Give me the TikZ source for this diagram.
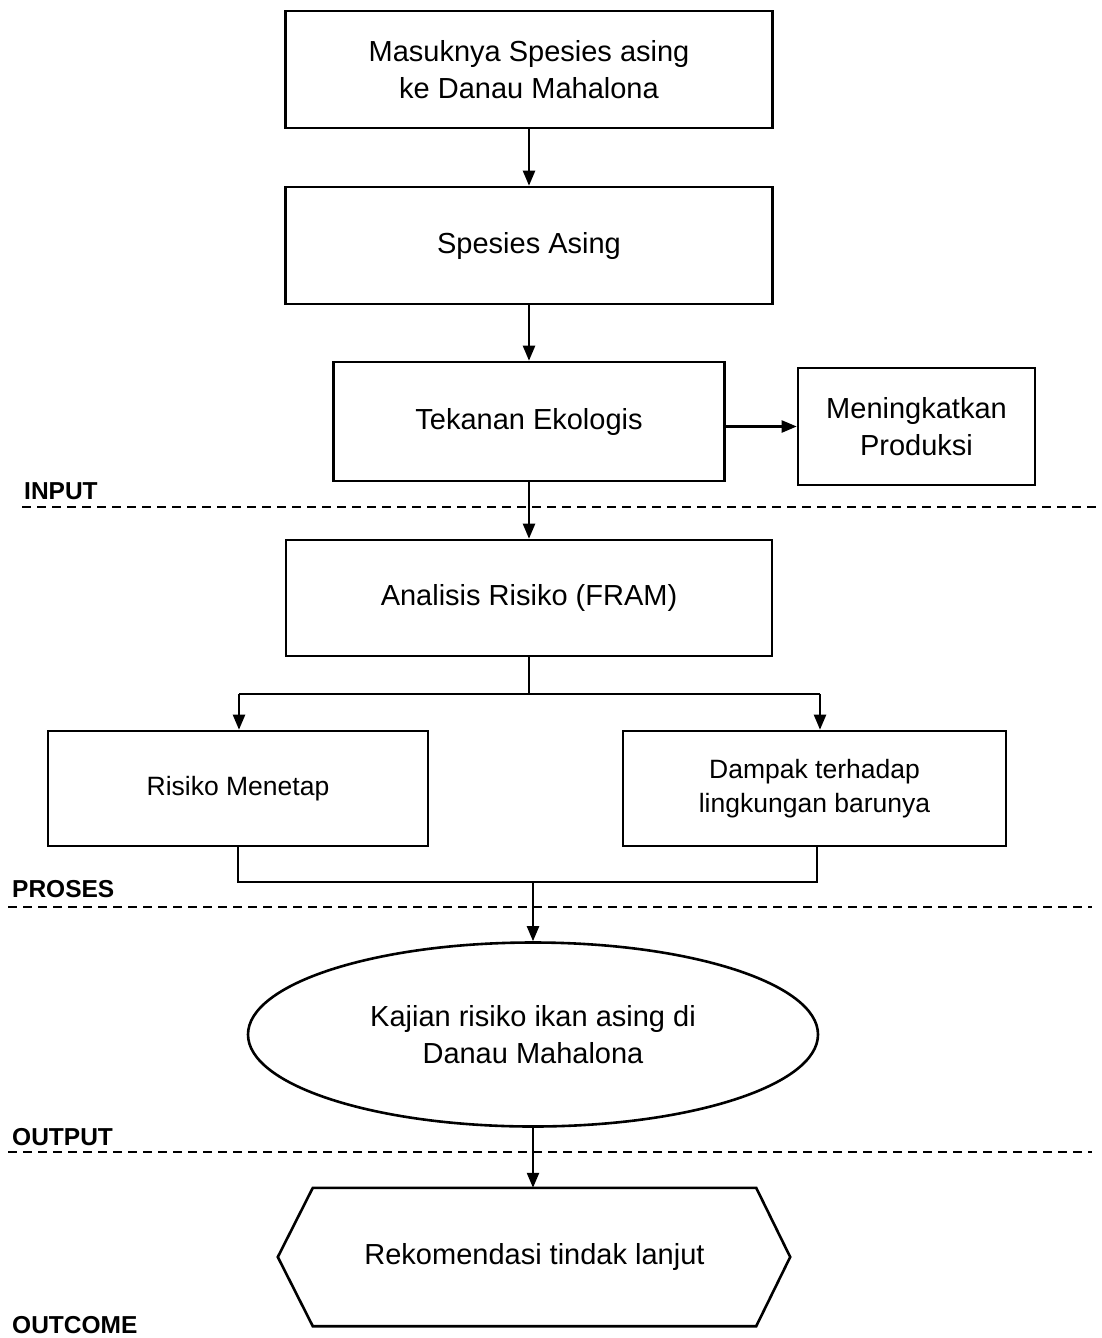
\documentclass[tikz,border=0pt]{standalone}
\usepackage{fontspec}
\setmainfont{Liberation Sans}
\usetikzlibrary{arrows.meta,shapes.geometric}
\tikzset{
  box/.style={draw, line width=2.6pt, rectangle, align=center, inner sep=0pt,
    font=\fontsize{29}{37}\selectfont},
  smallbox/.style={box, font=\fontsize{26.5}{34}\selectfont},
  ellbox/.style={draw, line width=2.6pt, ellipse, align=center, inner sep=0pt,
    font=\fontsize{29}{37}\selectfont},
  hexbox/.style={rectangle, align=center, inner sep=0pt,
    font=\fontsize{29}{37}\selectfont},
  arr/.style={line width=2.3pt, -{Triangle[length=15pt,width=12pt]}},
  conn/.style={line width=2.3pt},
  sep/.style={line width=2.4pt, dash pattern=on 9pt off 6pt},
  lbl/.style={anchor=base west, inner sep=0pt, font=\fontsize{24.5}{28}\selectfont\bfseries}
}
\begin{document}
\begin{tikzpicture}[x=1pt,y=-1pt]
\useasboundingbox (0,0) rectangle (1102,1338);

\node[box, minimum width=487pt, minimum height=117pt] (b1) at (529,69.5)
  {Masuknya Spesies asing\\ke Danau Mahalona};
\node[box, minimum width=487pt, minimum height=117pt] (b2) at (529,245.5) {Spesies Asing};
\node[box, minimum width=391pt, minimum height=119pt] (b3) at (529,421.5) {Tekanan Ekologis};
\node[box, minimum width=237pt, minimum height=117pt] (b4) at (916.5,426.5) {Meningkatkan\\Produksi};
\node[box, minimum width=486pt, minimum height=116pt] (b5) at (529,598) {Analisis Risiko (FRAM)};
\node[smallbox, minimum width=380pt, minimum height=115pt] (b6) at (238,788.5) {Risiko Menetap};
\node[smallbox, minimum width=383pt, minimum height=115pt] (b7) at (814.5,788.5) {Dampak terhadap\\lingkungan barunya};
\node[ellbox, minimum width=570pt, minimum height=184pt] (ell) at (533,1034.5)
  {Kajian risiko ikan asing di\\Danau Mahalona};
\node[hexbox, minimum width=443pt, minimum height=138pt] (rek) at (534.5,1257) {Rekomendasi tindak lanjut};
\draw[line width=2.6pt, line join=miter]
  (rek.north west) -- (rek.north east) -- ([xshift=34pt]rek.east) -- (rek.south east)
  -- (rek.south west) -- ([xshift=-35pt]rek.west) -- cycle;

% separators
\draw[sep] (22,507) -- (1097,507);
\draw[sep] (8,907) -- (1092,907);
\draw[sep] (8,1152) -- (1092,1152);

\node[lbl] (linput) at (24,499) {INPUT};
\node[lbl] (lproses) at (12,897) {PROSES};
\node[lbl] (loutput) at (12,1145) {OUTPUT};
\node[lbl] (loutcome) at (12,1333) {OUTCOME};

% connectors
\draw[arr] (b1.south) -- (b2.north);
\draw[arr] (b2.south) -- (b3.north);
\draw[arr] ([xshift=-3pt]b3.east |- b4.west) -- (b4.west);
\draw[arr] (b3.south) -- (b5.north);

\coordinate (sM) at (529,694);
\coordinate (sL) at (239,694);
\coordinate (sR) at (820,694);
\draw[conn] (b5.south) -- (sM);
\draw[conn] (sL) -- (sR);
\draw[arr] (sL) -- (sL |- b6.north);
\draw[arr] (sR) -- (sR |- b7.north);

\coordinate (jL) at (238,882);
\coordinate (jR) at (817,882);
\coordinate (jM) at (533,882);
\draw[conn] (jL |- b6.south) -- (jL) -- (jR) -- (jR |- b7.south);
\draw[arr] (jM) -- (ell.north);
\draw[arr] (ell.south) -- (rek.north -| ell.south);
\end{tikzpicture}
\end{document}
